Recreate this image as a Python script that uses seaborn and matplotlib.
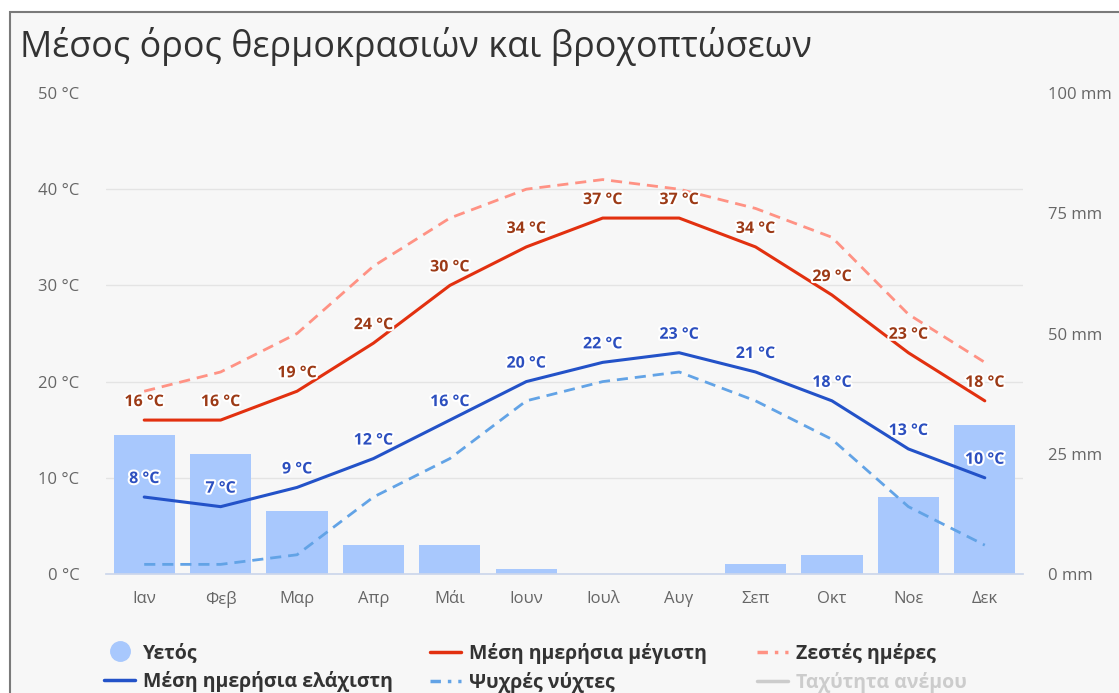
import matplotlib
matplotlib.use("Agg")
import matplotlib.pyplot as plt
import matplotlib.patheffects as pe
from matplotlib.lines import Line2D
from matplotlib.patches import Rectangle
from matplotlib.ticker import MultipleLocator
import pandas as pd
import seaborn as sns

# data
months = ["Ιαν", "Φεβ", "Μαρ", "Απρ", "Μάι", "Ιουν", "Ιουλ", "Αυγ", "Σεπ", "Οκτ", "Νοε", "Δεκ"]
precip_mm = [29, 25, 13, 6, 6, 1, 0, 0, 2, 4, 16, 31]
temp_max = [16, 16, 19, 24, 30, 34, 37, 37, 34, 29, 23, 18]
temp_min = [8, 7, 9, 12, 16, 20, 22, 23, 21, 18, 13, 10]
hot_days = [19, 21, 25, 32, 37, 40, 41, 40, 38, 35, 27, 22]
cold_nights = [1, 1, 2, 8, 12, 18, 20, 21, 18, 14, 7, 3]
temp_ticks = [0, 10, 20, 30, 40, 50]
precip_ticks = [0, 25, 50, 75, 100]

title = "Μέσος όρος θερμοκρασιών και βροχοπτώσεων"
legend_cols = [["Υετός", "Μέση ημερήσια ελάχιστη"],
               ["Μέση ημερήσια μέγιστη", "Ψυχρές νύχτες"],
               ["Ζεστές ημέρες", "Ταχύτητα ανέμου"]]

df = pd.DataFrame({
    "month": months,
    "pos": range(len(months)),
    "precip": precip_mm,
    "tmax": temp_max,
    "tmin": temp_min,
    "hot": hot_days,
    "cold": cold_nights,
})

sns.set_theme(style="white")
plt.rcParams["font.family"] = ["Open Sans", "DejaVu Sans"]

c_bar = "#a8c8fd"
c_max = "#e2300f"
c_min = "#2352c8"
c_hot = "#ff9284"
c_cold = "#62a3e6"
c_max_lbl = "#9c3a16"
c_min_lbl = "#2c4fbf"

W, H = 1119, 693
fig = plt.figure(figsize=(W / 100, H / 100), dpi=100, facecolor="white")
fig.add_artist(Rectangle((9.5 / W, -0.1), 1.2, 1 - 12.5 / H + 0.1, transform=fig.transFigure,
                         facecolor="#f7f7f7", edgecolor="#7a7a7a", lw=1.5, zorder=-10))

ax = fig.add_axes([106 / W, 1 - 574 / H, (1023 - 106) / W, (574 - 93) / H])
ax2 = ax.twinx()
ax.set_zorder(ax2.get_zorder() + 1)
ax.patch.set_visible(False)
ax2.patch.set_visible(False)

# precipitation bars on the right-hand axis
sns.barplot(data=df, x="month", y="precip", order=months, ax=ax2, color=c_bar,
            saturation=1, width=0.8, edgecolor="none")
ax2.set_ylim(0, 100)
ax2.set_yticks(precip_ticks, [f"{t} mm" for t in precip_ticks])
ax2.yaxis.set_minor_locator(MultipleLocator(20))
ax2.grid(False)
ax2.grid(which="minor", axis="y", color="#e4e4e4", lw=1)
ax2.set_axisbelow(True)
ax2.tick_params(axis="y", which="both", length=0, labelsize=12, labelcolor="#666666", pad=18)
ax2.set_ylabel("")

# temperature lines on the left-hand axis
sns.lineplot(data=df, x="pos", y="hot", ax=ax, color=c_hot, lw=2, linestyle=(0, (4, 2.5)))
sns.lineplot(data=df, x="pos", y="cold", ax=ax, color=c_cold, lw=2, linestyle=(0, (4, 2.5)))
sns.lineplot(data=df, x="pos", y="tmax", ax=ax, color=c_max, lw=2.2)
sns.lineplot(data=df, x="pos", y="tmin", ax=ax, color=c_min, lw=2.2)

halo = [pe.withStroke(linewidth=3, foreground="white")]
for i, v in enumerate(temp_max):
    ax.annotate(f"{v} °C", (i, v), xytext=(0, 18), textcoords="offset pixels", ha="center",
                va="center", fontsize=11.5, fontweight="bold", color=c_max_lbl, path_effects=halo)
for i, v in enumerate(temp_min):
    ax.annotate(f"{v} °C", (i, v), xytext=(0, 18), textcoords="offset pixels", ha="center",
                va="center", fontsize=11.5, fontweight="bold", color=c_min_lbl, path_effects=halo)

ax.set_ylim(0, 50)
ax.set_yticks(temp_ticks, [f"{t} °C" for t in temp_ticks])
ax.set_xlim(-0.5, len(months) - 0.5)
ax.set_xticks(range(len(months)), months)
ax.set_xlabel("")
ax.set_ylabel("")
ax.tick_params(axis="y", length=0, labelsize=12, labelcolor="#666666", pad=19)
ax.tick_params(axis="x", length=0, labelsize=12, labelcolor="#666666", pad=12)
for a in (ax, ax2):
    for s in a.spines.values():
        s.set_visible(False)
ax.spines["bottom"].set_visible(True)
ax.spines["bottom"].set_color("#ccd6eb")

fig.text(20 / W, 1 - 46 / H, title, fontsize=25.8, color="#333333", va="center", ha="left")

dash_dot = (0, (3, 2, 1, 2))
handle_cols = [
    [Line2D([], [], marker="o", ls="", markersize=14, markerfacecolor=c_bar, markeredgecolor=c_bar),
     Line2D([], [], color=c_min, lw=2.5)],
    [Line2D([], [], color=c_max, lw=2.5),
     Line2D([], [], color=c_cold, lw=2.5, ls=dash_dot)],
    [Line2D([], [], color=c_hot, lw=2.5, ls=dash_dot),
     Line2D([], [], color="#cccccc", lw=2.5)],
]
legend_x = [104, 430, 757]
for hx, hs, labels in zip(legend_x, handle_cols, legend_cols):
    leg = fig.legend(hs, labels, loc="upper left", bbox_to_anchor=(hx / W, 1 - 643 / H),
                     bbox_transform=fig.transFigure, frameon=False,
                     prop={"size": 14, "weight": "bold"}, handlelength=1.6, handletextpad=0.4,
                     labelspacing=0.4, borderpad=0, borderaxespad=0)
    for t in leg.get_texts():
        t.set_color("#cccccc" if t.get_text() == "Ταχύτητα ανέμου" else "#333333")

fig.savefig("out.png", dpi=100, facecolor="white")
